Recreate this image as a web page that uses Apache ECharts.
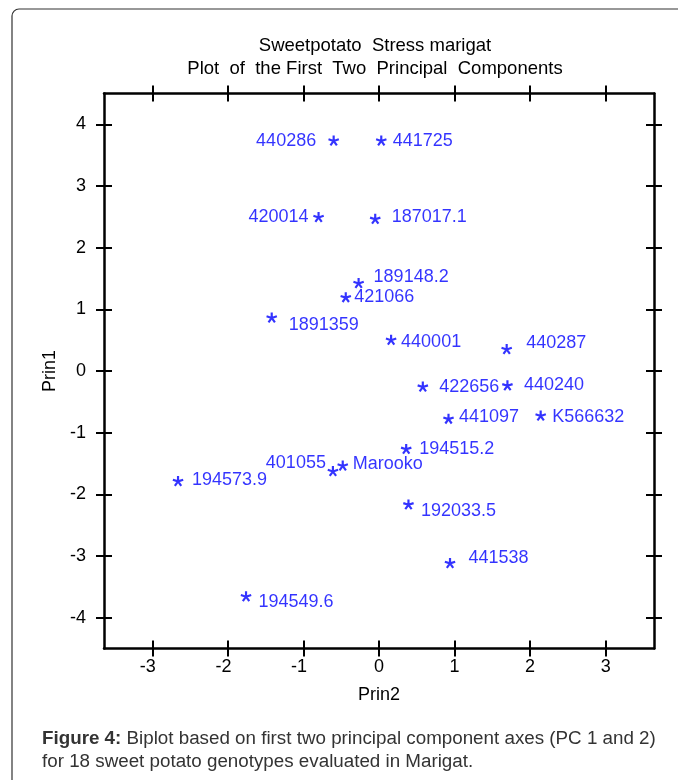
<!DOCTYPE html>
<html>
<head>
<meta charset="utf-8">
<script src="https://cdn.jsdelivr.net/npm/echarts@6/dist/echarts.min.js"></script>
<style>
html,body{margin:0;padding:0;background:#fff;}
#chart{width:678px;height:780px;}
</style>
</head>
<body>
<div id="chart"></div>
<script>
// ---- data ----
const genotypes = ['440286','441725','420014','187017.1','189148.2','421066','1891359','440001','440287','422656','440240','441097','K566632','194515.2','401055','Marooko','194573.9','192033.5','441538','194549.6'];
const prin2 = [-0.60, 0.03, -0.80, -0.05, -0.27, -0.44, -1.42, 0.16, 1.69, 0.58, 1.70, 0.92, 2.14, 0.36, -0.61, -0.48, -2.66, 0.39, 0.94, -1.76];
const prin1 = [3.73, 3.73, 2.49, 2.46, 1.42, 1.19, 0.86, 0.50, 0.35, -0.26, -0.24, -0.78, -0.73, -1.27, -1.63, -1.54, -1.79, -2.17, -3.12, -3.66];
const xTicks = [-3, -2, -1, 0, 1, 2, 3];
const yTicks = [-4, -3, -2, -1, 0, 1, 2, 3, 4];

// ---- label placement (style, not data) ----
const labelPlace = {
  '440286':   ['left', 12, 0],
  '441725':   ['right', 6, 0],
  '420014':   ['left', 4.5, 0],
  '187017.1': ['right', 11, -2],
  '189148.2': ['right', 9.5, -6],
  '421066':   ['right', 3, -1],
  '1891359':  ['right', 11.5, 7],
  '440001':   ['right', 4.5, 1.5],
  '440287':   ['right', 14, -6.5],
  '422656':   ['right', 11, 0],
  '440240':   ['right', 11, -1],
  '441097':   ['right', 5, -2.5],
  'K566632':  ['right', 6, 1.3],
  '194515.2': ['right', 7.5, 0],
  '401055':   ['left', 1.5, -8.4],
  'Marooko':  ['right', 4.5, -1.7],
  '194573.9': ['right', 8.5, -1],
  '192033.5': ['right', 7, 6.7],
  '441538':   ['right', 13, -5],
  '194549.6': ['right', 7, 5.6]
};

// five-armed asterisk symbol
function asteriskPath() {
  const c = 50, L = 50, w = 20;
  let d = 'M0 0 L0 0 M100 100 L100 100 ';
  for (let i = 0; i < 5; i++) {
    const a = i * 72 * Math.PI / 180;
    const dx = Math.sin(a), dy = -Math.cos(a);
    const px = Math.cos(a), py = Math.sin(a);
    const p1 = [c + px * w / 2, c + py * w / 2];
    const p2 = [c + px * w / 2 + dx * L, c + py * w / 2 + dy * L];
    const p3 = [c - px * w / 2 + dx * L, c - py * w / 2 + dy * L];
    const p4 = [c - px * w / 2, c - py * w / 2];
    d += 'M' + p1.map(v => v.toFixed(2)).join(' ') + ' L' + p2.map(v => v.toFixed(2)).join(' ') +
         ' L' + p3.map(v => v.toFixed(2)).join(' ') + ' L' + p4.map(v => v.toFixed(2)).join(' ') + ' Z ';
  }
  return 'path://' + d;
}

const FONT = '"Liberation Sans", Arial, Helvetica, sans-serif';
const BLUE = '#0000ff';
const gridRect = { left: 104, top: 93.5, width: 550, height: 555 };
const xRange = { min: -3.64, max: 3.64 };
const yRange = { min: -4.5, max: 4.5 };

const chart = echarts.init(document.getElementById('chart'), null, { renderer: 'canvas' });

const lineStyle = { color: '#000', width: 2.5 };
const tickStyle = { color: '#000', width: 2 };

function xAxisDef(grid, pos, inside, withLabels) {
  return {
    type: 'value', gridIndex: grid, position: pos, ...xRange,
    splitLine: { show: false },
    axisLine: { show: inside, onZero: false, lineStyle },
    axisTick: { show: true, inside, length: 8, lineStyle: tickStyle, customValues: xTicks },
    axisLabel: withLabels ? {
      show: true, customValues: xTicks, margin: 10, color: '#000', fontSize: 18, fontFamily: FONT,
      formatter: v => v < 0 ? '{neg|' + v + '}' : String(v),
      rich: { neg: { fontSize: 18, fontFamily: FONT, color: '#000', padding: [0, 9, 0, 0] } }
    } : { show: false },
    name: withLabels ? 'Prin2' : '', nameLocation: 'middle', nameGap: 38,
    nameTextStyle: { color: '#000', fontSize: 18, fontFamily: FONT }
  };
}
function yAxisDef(grid, pos, inside, withLabels) {
  return {
    type: 'value', gridIndex: grid, position: pos, ...yRange,
    splitLine: { show: false },
    axisLine: { show: inside, onZero: false, lineStyle },
    axisTick: { show: true, inside, length: 8, lineStyle: tickStyle, customValues: yTicks },
    axisLabel: withLabels ? {
      show: true, customValues: yTicks, margin: 18, color: '#000', fontSize: 18, fontFamily: FONT,
      padding: [3, 0, 0, 0]
    } : { show: false },
    name: withLabels ? 'Prin1' : '', nameLocation: 'middle', nameGap: 43,
    nameTextStyle: { color: '#000', fontSize: 18, fontFamily: FONT }
  };
}

const option = {
  backgroundColor: '#fff',
  animation: false,
  title: [
    {
      text: 'Sweetpotato  Stress marigat\nPlot  of  the First  Two  Principal  Components',
      left: 370, top: 29, textAlign: 'center',
      textStyle: { color: '#000', fontSize: 18.5, fontWeight: 'normal', fontFamily: FONT, lineHeight: 23 }
    },
    {
      text: '{b|Figure 4:} Biplot based on first two principal component axes (PC 1 and 2)\nfor 18 sweet potato genotypes evaluated in Marigat.',
      left: 37, top: 722,
      textStyle: {
        color: '#333', fontSize: 18.8, fontWeight: 'normal', fontFamily: FONT, lineHeight: 23,
        rich: { b: { fontWeight: 'bold', color: '#333', fontSize: 18.8, fontFamily: FONT, lineHeight: 23 } }
      }
    }
  ],
  graphic: [
    {
      type: 'rect', silent: true, z: -1,
      shape: { x: 12, y: 9, width: 720, height: 820, r: 7 },
      style: { fill: 'none', stroke: '#333', lineWidth: 1.2 }
    }
  ],
  grid: [
    { ...gridRect, show: false },
    { ...gridRect, show: false }
  ],
  xAxis: [
    xAxisDef(0, 'bottom', true, true),
    xAxisDef(0, 'top', true, false),
    xAxisDef(1, 'bottom', false, false),
    xAxisDef(1, 'top', false, false)
  ],
  yAxis: [
    yAxisDef(0, 'left', true, true),
    yAxisDef(0, 'right', true, false),
    yAxisDef(1, 'left', false, false),
    yAxisDef(1, 'right', false, false)
  ],
  series: [
    {
      type: 'scatter', xAxisIndex: 0, yAxisIndex: 0,
      symbol: asteriskPath(), symbolSize: 11, symbolKeepAspect: true,
      itemStyle: { color: BLUE },
      label: { show: true, formatter: p => p.name, color: BLUE, fontSize: 18, fontFamily: FONT },
      data: genotypes.map((g, i) => {
        const lp = labelPlace[g] || ['right', 6, 0];
        return {
          name: g, value: [prin2[i], prin1[i]],
          label: { position: lp[0], distance: lp[1], offset: [0, lp[2]] }
        };
      })
    }
  ]
};
chart.setOption(option);
</script>
</body>
</html>
